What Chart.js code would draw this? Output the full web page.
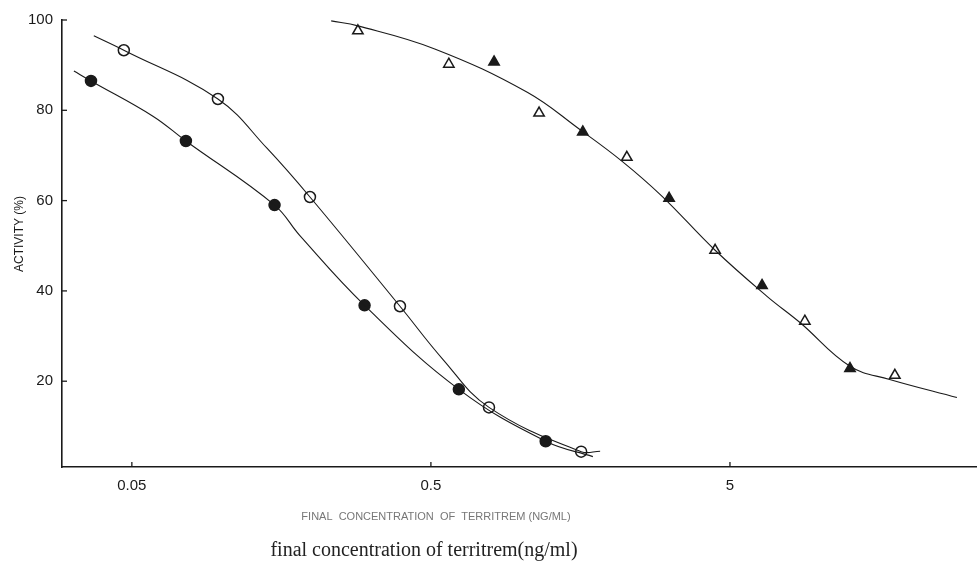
<!DOCTYPE html>
<html><head><meta charset="utf-8">
<script src="https://cdn.jsdelivr.net/npm/chart.js@4"></script>
<style>html,body{margin:0;padding:0;background:#fff;} canvas{display:block;}</style>
</head><body>
<canvas id="c" width="977" height="569"></canvas>
<script>
// ---- tick labels ----
const xTickValues = [0.05, 0.5, 5];
const xTickLabels = ['0.05', '0.5', '5'];
const yTickValues = [20, 40, 60, 80, 100];

// ---- measured points ----
const openCircleX = [0.047, 0.097, 0.197, 0.394, 0.782, 1.59];
const openCircleY = [93.3, 82.5, 60.8, 36.6, 14.2, 4.4];
const filledCircleX = [0.0365, 0.0758, 0.150, 0.30, 0.62, 1.21];
const filledCircleY = [86.5, 73.2, 59.0, 36.8, 18.2, 6.7];
const openTriangleX = [0.285, 0.574, 1.15, 2.26, 4.46, 8.9, 17.8];
const openTriangleY = [97.6, 90.2, 79.4, 69.6, 49.0, 33.3, 21.3];
const filledTriangleX = [0.813, 1.61, 3.13, 6.4, 12.6];
const filledTriangleY = [90.7, 75.2, 60.5, 41.2, 22.8];

// ---- fitted curves ----
const openCurveX = [0.0373, 0.047, 0.097, 0.1415, 0.197, 0.394, 0.549, 0.782, 1.59, 1.84];
const openCurveY = [96.5, 93.3, 82.5, 71.6, 60.8, 36.6, 24.8, 14.2, 4.4, 4.5];
const filledCurveX = [0.032, 0.0365, 0.0588, 0.0758, 0.150, 0.182, 0.30, 0.62, 1.21, 1.74];
const filledCurveY = [88.7, 86.5, 78.7, 73.2, 59.0, 52.3, 36.8, 18.2, 6.7, 3.3];
const triangleCurveX = [0.232, 0.285, 0.515, 1.05, 1.57, 2.18, 2.96, 4.46, 6.65, 8.57, 12.6, 17.1, 28.7];
const triangleCurveY = [99.8, 98.7, 93.6, 84.0, 75.8, 68.7, 61.0, 49.0, 38.8, 33.0, 23.3, 20.4, 16.4];

// ---- texts ----
const yAxisTitle = 'ACTIVITY (%)';
const xAxisTitle = 'FINAL  CONCENTRATION  OF  TERRITREM (NG/ML)';
const caption = 'final concentration of territrem(ng/ml)';

const pts = (xs, ys) => xs.map((x, i) => ({x: x, y: ys[i]}));
const INK = '#1a1a1a';

function curve(xs, ys) {
  return { data: pts(xs, ys), showLine: true, pointRadius: 0, borderColor: INK,
    borderWidth: 1.1, tension: 0.4, fill: false };
}
function marks(xs, ys, style, filled) {
  return { data: pts(xs, ys), showLine: false, pointStyle: style, pointRadius: style === 'triangle' ? 6 : 5.5,
    pointBackgroundColor: filled ? INK : '#fff', pointBorderColor: INK, pointBorderWidth: 1.5 };
}

const extras = {
  id: 'extras',
  afterDraw(chart) {
    const {ctx, chartArea: a, scales: {x, y}} = chart;
    ctx.save();
    ctx.strokeStyle = INK; ctx.lineWidth = 1.3;
    x.ticks.forEach(t => { const px = x.getPixelForValue(t.value);
      ctx.beginPath(); ctx.moveTo(px, a.bottom); ctx.lineTo(px, a.bottom - 5); ctx.stroke(); });
    y.ticks.forEach(t => { const py = y.getPixelForValue(t.value);
      ctx.beginPath(); ctx.moveTo(a.left, py); ctx.lineTo(a.left + 5, py); ctx.stroke(); });
    ctx.textAlign = 'center'; ctx.textBaseline = 'middle';
    ctx.fillStyle = '#777';
    ctx.font = '11px "Liberation Sans", sans-serif';
    ctx.fillText(xAxisTitle, 436, 517);
    ctx.fillStyle = '#222';
    ctx.font = '20px "Liberation Serif", serif';
    ctx.fillText(caption, 424, 551);
    ctx.translate(20, 234); ctx.rotate(-Math.PI / 2);
    ctx.fillStyle = INK;
    ctx.font = '12px "Liberation Sans", sans-serif';
    ctx.fillText(yAxisTitle, 0, 0);
    ctx.restore();
  }
};

const tickFont = {family: '"Liberation Sans", sans-serif', size: 15};

new Chart(document.getElementById('c'), {
  type: 'scatter',
  data: { datasets: [
    curve(openCurveX, openCurveY),
    curve(filledCurveX, filledCurveY),
    curve(triangleCurveX, triangleCurveY),
    marks(openCircleX, openCircleY, 'circle', false),
    marks(filledCircleX, filledCircleY, 'circle', true),
    marks(openTriangleX, openTriangleY, 'triangle', false),
    marks(filledTriangleX, filledTriangleY, 'triangle', true)
  ]},
  options: {
    responsive: false, animation: false, devicePixelRatio: 1,
    layout: { autoPadding: false, padding: {top: 20, left: 0, right: 0, bottom: 0} },
    plugins: { legend: {display: false}, tooltip: {enabled: false} },
    scales: {
      x: { type: 'logarithmic', min: 0.0292, max: 33.5,
        afterBuildTicks: s => { s.ticks = xTickValues.map(v => ({value: v})); },
        afterFit: s => { s.height = 102; },
        grid: {display: false, drawTicks: false},
        border: {display: true, color: INK, width: 1.6},
        ticks: { color: INK, font: tickFont, padding: 10, autoSkip: false, maxRotation: 0,
          callback: (v, i) => xTickLabels[i] } },
      y: { type: 'linear', min: 1, max: 100,
        afterBuildTicks: s => { s.ticks = yTickValues.map(v => ({value: v})); },
        afterFit: s => { s.width = 62; },
        grid: {display: false, drawTicks: false},
        border: {display: true, color: INK, width: 1.6},
        ticks: { color: INK, font: tickFont, padding: 9, callback: v => String(v) } }
    }
  },
  plugins: [extras]
});
</script>
</body></html>
